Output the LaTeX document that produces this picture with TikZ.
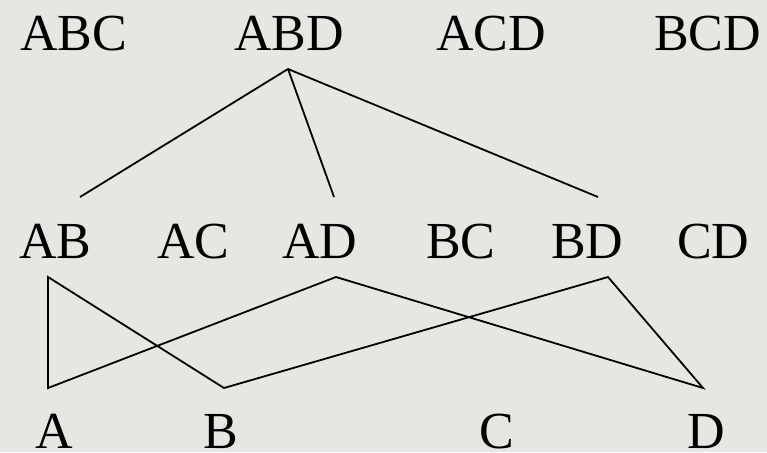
\documentclass[tikz,border=0pt]{standalone}
\usepackage{fontspec}
\setmainfont{Liberation Serif}
\definecolor{bg}{RGB}{230,230,227}
\begin{document}
\begin{tikzpicture}[x=1pt,y=-1pt,
  lbl/.style={anchor=base west,inner sep=0pt,outer sep=0pt,text depth=0pt,font=\fontsize{52}{52}\selectfont},
  edge/.style={line width=1.8pt,black,line join=miter}]
\fill[bg] (0,0) rectangle (767,452);
\useasboundingbox (0,0) rectangle (767,452);
% row 1
\node[lbl] (ABC) at (20,50) {ABC};
\node[lbl] (ABD) at (234,50) {ABD};
\node[lbl] (ACD) at (436,50) {ACD};
\node[lbl] (BCD) at (654,50) {BCD};
% row 2
\node[lbl] (AB) at (19,258) {AB};
\node[lbl] (AC) at (157,258) {AC};
\node[lbl] (AD) at (282,258) {AD};
\node[lbl] (BC) at (426,258) {BC};
\node[lbl] (BD) at (551,258) {BD};
\node[lbl] (CD) at (677,258) {CD};
% row 3
\node[lbl] (A) at (35,448) {A};
\node[lbl] (B) at (203,448) {B};
\node[lbl] (C) at (479,448) {C};
\node[lbl] (D) at (687,448) {D};
% connector ends
\coordinate (ABDs) at (288,69);
\coordinate (ABn) at (80,197);
\coordinate (ADn) at (334,197);
\coordinate (BDn) at (598,197);
\coordinate (ABs) at (48,277);
\coordinate (ADs) at (336,277);
\coordinate (BDs) at (608,277);
\coordinate (An) at (48,388);
\coordinate (Bn) at (224,388);
\coordinate (Dn) at (703,388);
\draw[edge] (ABn) -- (ABDs) -- (BDn);
\draw[edge] (ABDs) -- (ADn);
\draw[edge] (An) -- (ABs) -- (Bn) -- (BDs) -- (Dn) -- (ADs) -- cycle;
\end{tikzpicture}
\end{document}
